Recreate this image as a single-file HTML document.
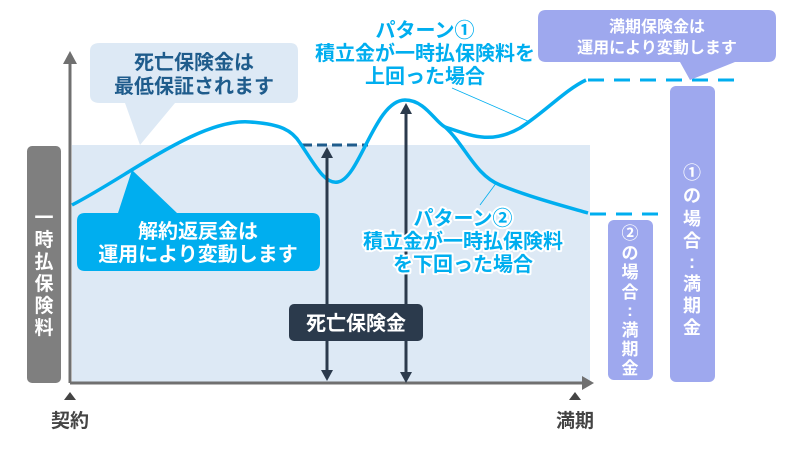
<!DOCTYPE html>
<html><head><meta charset="utf-8"><style>
html,body{margin:0;padding:0;background:#fff;}
svg{display:block;}
text{font-family:"Liberation Sans","Noto Sans CJK JP",sans-serif;font-weight:bold;}
</style></head><body>
<svg width="800" height="450" viewBox="0 0 800 450" xmlns="http://www.w3.org/2000/svg">
<rect x="72" y="145" width="518" height="238" fill="#dde9f5"/>
<rect x="27" y="146" width="34" height="237" rx="5" fill="#7f7f7f"/>
<g fill="#fff" font-size="19" text-anchor="middle">
<text x="44" y="224">一</text><text x="44" y="246">時</text><text x="44" y="268">払</text><text x="44" y="290">保</text><text x="44" y="312">険</text><text x="44" y="334">料</text>
</g>
<line x1="70" y1="383" x2="70" y2="62" stroke="#707070" stroke-width="3"/>
<polygon points="63,64 77,64 70,51" fill="#707070"/>
<line x1="70" y1="383" x2="584" y2="383" stroke="#707070" stroke-width="3"/>
<polygon points="582,376 582,390 594,383" fill="#707070"/>
<polygon points="64,400 76,400 70,392" fill="#444"/>
<polygon points="569,400 581,400 575,392" fill="#444"/>
<text x="70" y="427" font-size="19" fill="#444" text-anchor="middle">契約</text>
<text x="575" y="427" font-size="19" fill="#444" text-anchor="middle">満期</text>
<path d="M100,43 H290 Q298,43 298,51 V95 Q298,103 290,103 H175 L140,145 L125,103 H100 Q90,103 90,95 V51 Q90,43 100,43 Z" fill="#dde9f5"/>
<g fill="#1f5c8c" font-size="20" text-anchor="middle">
<text x="194" y="69">死亡保険金は</text>
<text x="194" y="93">最低保証されます</text>
</g>
<line x1="302" y1="145" x2="368" y2="145" stroke="#1f5c8c" stroke-width="3" stroke-dasharray="10,5"/>
<g fill="none" stroke="#00aeef" stroke-width="3.5">
<path d="M72,205 C130,175 200,118 250,122 C280,124 292,130 300,143 C315,165 325,185 338,182 C360,178 375,100 405,100 C425,100 435,122 445,127"/>
<path d="M445,127 C470,135 490,145 520,128 C545,112 565,90 586,80"/>
<path d="M445,127 C465,145 475,175 500,185 C530,197 560,205 588,213"/>
</g>
<line x1="588" y1="80" x2="735" y2="80" stroke="#00aeef" stroke-width="3" stroke-dasharray="16,10"/>
<line x1="590" y1="214" x2="666" y2="214" stroke="#00aeef" stroke-width="3" stroke-dasharray="16,10"/>
<line x1="452" y1="88" x2="530" y2="122" stroke="#00aeef" stroke-width="0.8"/>
<line x1="480" y1="205" x2="497" y2="182" stroke="#00aeef" stroke-width="0.8"/>
<g stroke="#2b3a4c" stroke-width="3">
<line x1="327" y1="155" x2="327" y2="370"/>
<line x1="406" y1="112" x2="406" y2="374"/>
</g>
<g fill="#2b3a4c">
<polygon points="321,158 333,158 327,147"/>
<polygon points="321,370 333,370 327,381"/>
<polygon points="400,114 412,114 406,103"/>
<polygon points="400,372 412,372 406,383"/>
</g>
<rect x="289" y="304" width="134" height="37" rx="5" fill="#2b3a4c"/>
<text x="356" y="330" font-size="20" fill="#fff" text-anchor="middle">死亡保険金</text>
<path d="M85,213 H118 L132,170 L177,213 H312 Q320,213 320,221 V263 Q320,271 312,271 H85 Q77,271 77,263 V221 Q77,213 85,213 Z" fill="#00aeef"/>
<g fill="#fff" font-size="20" text-anchor="middle">
<text x="198" y="238">解約返戻金は</text>
<text x="198" y="261">運用により変動します</text>
</g>
<g fill="#00aeef" font-size="20" text-anchor="middle" stroke="#fff" stroke-width="4" paint-order="stroke" stroke-linejoin="round">
<text x="425" y="37">パターン①</text>
<text x="425" y="60">積立金が一時払保険料を</text>
<text x="425" y="83">上回った場合</text>
<text x="463" y="225">パターン②</text>
<text x="463" y="248">積立金が一時払保険料</text>
<text x="463" y="271">を下回った場合</text>
</g>
<path d="M546,10 H768 Q776,10 776,18 V54 Q776,62 768,62 H735 L690,80 L680,62 H546 Q538,62 538,54 V18 Q538,10 546,10 Z" fill="#9ea8ee"/>
<g fill="#fff" font-size="16" text-anchor="middle">
<text x="657" y="32">満期保険金は</text>
<text x="657" y="53">運用により変動します</text>
</g>
<rect x="670" y="86" width="45" height="296" rx="6" fill="#9ea8ee"/>
<rect x="608" y="220" width="45" height="160" rx="6" fill="#9ea8ee"/>
<g fill="#fff" font-size="18" text-anchor="middle">
<text x="692" y="179">①</text><text x="692" y="202">の</text><text x="692" y="225">場</text><text x="692" y="247">合</text><text x="692" y="268">:</text><text x="692" y="290">満</text><text x="692" y="312">期</text><text x="692" y="334">金</text>
</g>
<g fill="#fff" font-size="17" text-anchor="middle">
<text x="630" y="239">②</text><text x="630" y="259">の</text><text x="630" y="278">場</text><text x="630" y="298">合</text><text x="630" y="316">:</text><text x="630" y="336">満</text><text x="630" y="355">期</text><text x="630" y="374">金</text>
</g>
</svg>
</body></html>
